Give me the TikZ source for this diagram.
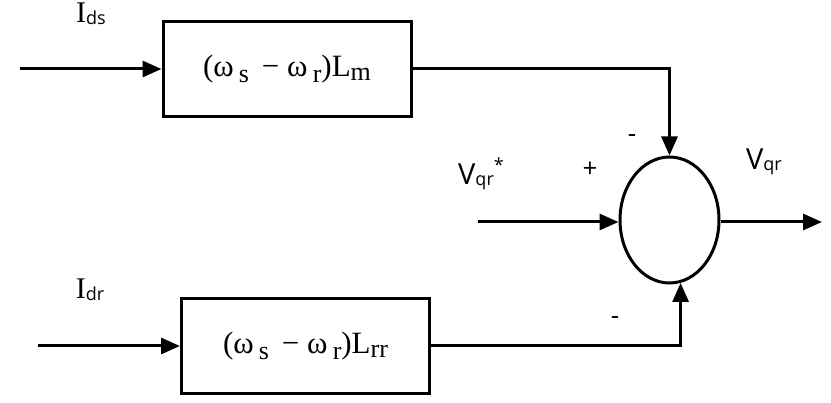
\documentclass[tikz,border=0pt]{standalone}
\usepackage{fontspec}
\setmainfont{Liberation Serif}
\newfontfamily\labelfont{Open Sans}
\usetikzlibrary{arrows.meta,shapes.geometric,positioning,calc}

\newcommand{\lowsub}[2][-6pt]{\raisebox{#1}{\fontsize{26}{26}\selectfont #2}}
\newcommand{\sanssub}[2][-1pt]{\raisebox{#1}{\labelfont\fontsize{18}{18}\selectfont #2}}

\tikzset{
  blockbox/.style={draw, line width=3pt, minimum width=248pt, minimum height=95pt,
    inner sep=0pt, font=\fontsize{31}{31}\selectfont},
  sumnode/.style={draw, ellipse, line width=3pt, minimum width=99pt,
    minimum height=126pt, inner sep=0pt},
  sig/.style={line width=3pt, -{Triangle[length=19pt,width=16pt]}},
  signlabel/.style={font=\labelfont\fontsize{26}{26}\selectfont},
  varlabel/.style={font=\labelfont\fontsize{29}{29}\selectfont, inner sep=0pt}
}

\begin{document}
\begin{tikzpicture}[x=1pt,y=-1pt]
\useasboundingbox (0,0) rectangle (831,403);

% Blocks
\node[blockbox] (lm) at (287,69) {(ω\,\lowsub{s}\, − ω\,\lowsub{r})L\lowsub[-4pt]{m}};
\node[blockbox] (lrr) at (305.5,346) {(ω\,\lowsub{s}\, − ω\,\lowsub{r})L\lowsub[-4pt]{rr}};

% Summing junction
\node[sumnode] (sum) at (669.5,220) {};

% Free ends
\coordinate (ids) at (20,69);
\coordinate (idr) at (38,346);
\coordinate (vref) at (478,222);
\coordinate (vout) at (822,222);

% Connectors
\draw[sig] (ids) -- (lm.west);
\draw[sig] (idr) -- (lrr.west);
\draw[sig] (lm.east) -| (sum.north);
\draw[sig] (lrr.east) -| (sum.-80);
\draw[sig] (vref) -- (sum.west |- vref);
\draw[sig] (sum.east |- vout) -- (vout);

% Labels
\node[varlabel] (idslabel) at (91,14) {{\rmfamily\fontsize{30}{30}\selectfont I}\sanssub[-2pt]{ds}};
\node[varlabel] (idrlabel) at (90,290) {{\rmfamily\fontsize{30}{30}\selectfont I}\sanssub[-2pt]{dr}};
\node[varlabel] (vreflabel) at (481,174) {V\sanssub{qr}\raisebox{13pt}{\fontsize{18}{18}\selectfont *}};
\node[varlabel] (voutlabel) at (764,162) {V\sanssub{qr}};
\node[signlabel] (plus) at (590,170) {+};
\node[signlabel] (minustop) at (632,139) {-};
\node[signlabel] (minusbot) at (615,321) {-};

\end{tikzpicture}
\end{document}
